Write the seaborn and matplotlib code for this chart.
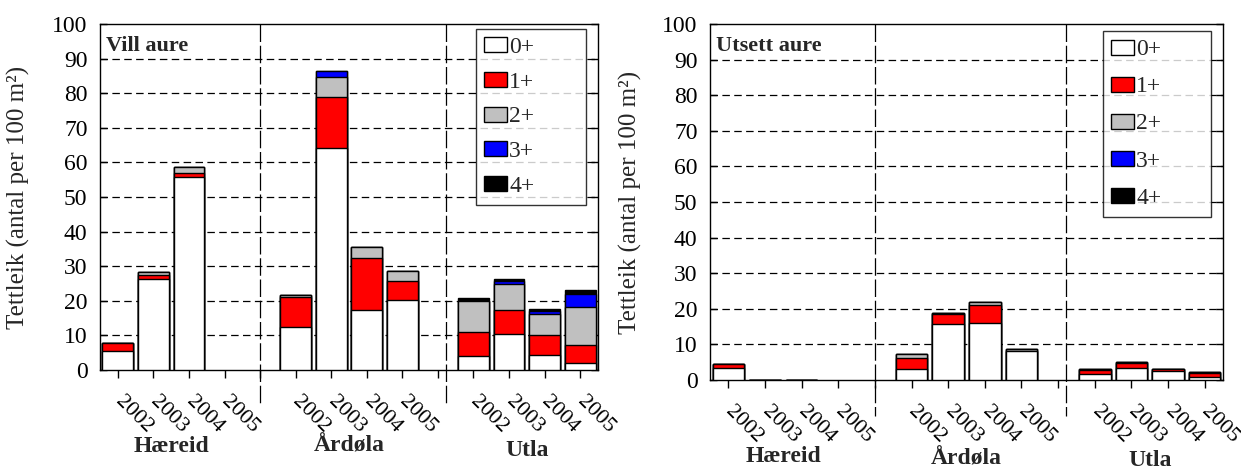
import numpy as np
import pandas as pd
import matplotlib
matplotlib.use("Agg")
import matplotlib.pyplot as plt
import seaborn as sns
from matplotlib.patches import Patch
from matplotlib.transforms import blended_transform_factory

sns.set_theme(style="white")
plt.rcParams['font.family'] = ['Liberation Serif', 'DejaVu Serif']

sites = ["Hæreid", "Årdøla", "Utla"]
years = ["2002", "2003", "2004", "2005"]
ages = ["0+", "1+", "2+", "3+", "4+"]
colors = ["#FFFFFF", "#FF0000", "#C0C0C0", "#0000FF", "#000000"]
nan = np.nan

# Vill aure (site x year, in order Hæreid 02-05, Årdøla 02-05, Utla 02-05)
vill_0 = [5.6, 26.2, 55.7, nan, 12.3, 64.2, 17.3, 20.2, 4.0, 10.4, 4.2, 2.1]
vill_1 = [2.3, 1.2, 1.3, nan, 8.7, 14.8, 15.1, 5.4, 7.0, 6.9, 5.8, 5.0]
vill_2 = [0.0, 0.9, 1.6, nan, 0.6, 5.8, 3.1, 2.9, 9.0, 7.5, 6.2, 11.0]
vill_3 = [0.0, 0.0, 0.0, nan, 0.0, 1.5, 0.0, 0.0, 0.0, 1.0, 0.9, 3.8]
vill_4 = [0.0, 0.0, 0.0, nan, 0.0, 0.0, 0.0, 0.0, 0.7, 0.6, 0.4, 1.2]

# Utsett aure
uts_0 = [3.5, 0.0, 0.0, nan, 3.0, 15.7, 15.9, 8.1, 1.7, 3.4, 2.6, 0.9]
uts_1 = [0.9, 0.0, 0.0, nan, 3.3, 2.8, 5.1, 0.0, 1.2, 1.5, 0.4, 1.1]
uts_2 = [0.2, 0.0, 0.0, nan, 1.1, 0.4, 0.9, 0.5, 0.2, 0.1, 0.1, 0.2]
uts_3 = [0.0, 0.0, 0.0, nan, 0.0, 0.0, 0.0, 0.0, 0.0, 0.0, 0.0, 0.0]
uts_4 = [0.0, 0.0, 0.0, nan, 0.0, 0.0, 0.0, 0.0, 0.0, 0.0, 0.0, 0.0]

panels = [
    ("Vill aure", [vill_0, vill_1, vill_2, vill_3, vill_4]),
    ("Utsett aure", [uts_0, uts_1, uts_2, uts_3, uts_4]),
]

# slot order with gap slots between sites
slots = []
slot_labels = []
for i, s in enumerate(sites):
    for y in years:
        slots.append(f"{s}{y}")
        slot_labels.append(y)
    if i < len(sites) - 1:
        slots.append(f"gap{i}")
        slot_labels.append("")

W, H = 1241, 472
fig = plt.figure(figsize=(W / 100, H / 100), dpi=100)
ax_boxes = [
    (100, 598, 24, 370),
    (710, 1223, 24, 380),
]
group_label_y = [[446, 446, 451], [457, 459, 461]]
legend_boxes = [(0.755, 0.483, 0.221, 0.503), (0.766, 0.463, 0.211, 0.517)]
legend_spacing = [0.58, 0.68]
ylabel_x = [-0.14, -0.133]

for p, ((title, series), (x0, x1, yt, yb)) in enumerate(zip(panels, ax_boxes)):
    ax = fig.add_axes([x0 / W, (H - yb) / H, (x1 - x0) / W, (yb - yt) / H])
    rows = []
    k = 0
    for s in sites:
        for y in years:
            rows.append({"slot": f"{s}{y}", **{a: series[j][k] for j, a in enumerate(ages)}})
            k += 1
    df = pd.DataFrame(rows).dropna()
    cum = df[ages].cumsum(axis=1)
    cum["slot"] = df["slot"]
    for j in reversed(range(len(ages))):
        sns.barplot(data=cum, x="slot", y=ages[j], order=slots, color=colors[j],
                    saturation=1, edgecolor="black", linewidth=1.0, width=0.86,
                    errorbar=None, ax=ax, zorder=3)
    ax.set_xlim(-0.5, len(slots) - 0.5)
    ax.set_ylim(0, 100)
    ax.set_yticks(np.arange(0, 101, 10))
    ax.tick_params(axis="y", labelsize=17, length=5, width=1, direction="in",
                   left=True, right=True, pad=9, colors="black")
    ax.set_xticks(range(len(slots)))
    ax.set_xticklabels(slot_labels, rotation=-45, ha="left", va="center", fontsize=16,
                       rotation_mode="anchor")
    ax.tick_params(axis="x", length=6, width=1, direction="out", bottom=True, pad=15,
                   colors="black")
    for y in range(10, 100, 10):
        ax.axhline(y, color="black", lw=0.9, ls=(0, (6, 3.5)), zorder=1)
    for sx in (4, 9.22):
        ax.plot([sx, sx], [100, -10], color="black", lw=0.9, ls=(0, (14, 3)),
                clip_on=False, zorder=2)
    for sp in ax.spines.values():
        sp.set_color("black")
        sp.set_linewidth(1.0)
    ax.set_xlabel("")
    ax.set_ylabel("Tettleik (antal per 100 m²)", fontsize=18)
    ax.yaxis.set_label_coords(ylabel_x[p], 0.5)
    ax.text(0.012, 0.965, title, transform=ax.transAxes, fontsize=16, fontweight="bold",
            ha="left", va="top")
    handles = [Patch(facecolor=c, edgecolor="black", linewidth=1.0) for c in colors]
    leg = ax.legend(handles, ages, loc="upper left", bbox_to_anchor=legend_boxes[p],
                    mode="expand", fontsize=17, frameon=True, fancybox=False,
                    edgecolor="black", labelspacing=legend_spacing[p], handlelength=0.95,
                    handleheight=0.6, handletextpad=0.1, borderpad=0.35,
                    borderaxespad=0.0)
    leg.get_frame().set_linewidth(1.0)
    leg.set_zorder(5)
    trans = blended_transform_factory(ax.transData, fig.transFigure)
    for g, s in enumerate(sites):
        ax.text(g * 5 + 1.5, (H - group_label_y[p][g]) / H, s, transform=trans,
                fontsize=17, fontweight="bold", ha="center", va="center")

fig.savefig("out.png", dpi=100)
